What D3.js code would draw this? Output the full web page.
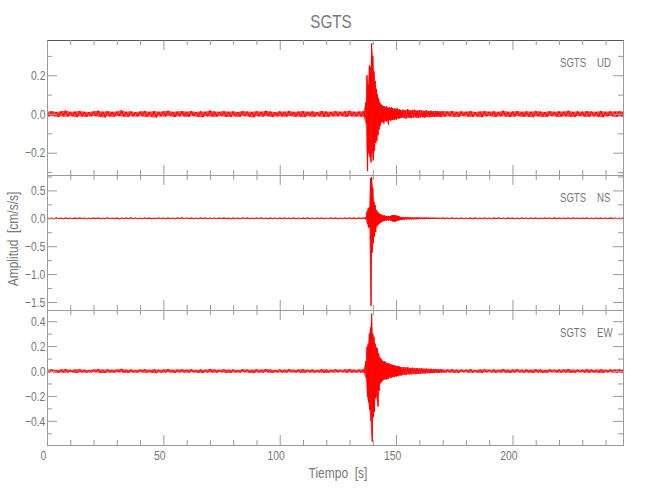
<!DOCTYPE html>
<html><head><meta charset="utf-8">
<script src="https://cdn.jsdelivr.net/npm/d3@7"></script>
<style>
body{margin:0;background:#fff}
text{font-family:"Liberation Sans",Arial,sans-serif;fill:#777;white-space:pre}
</style></head><body><svg id="c" width="650" height="500"></svg>
<script>
const station = "SGTS";
const components = ["UD","NS","EW"];
const xLabel = "Tiempo  [s]";
const yLabel = "Amplitud  [cm/s/s]";
const xMajor = [0,50,100,150,200];
const xMinor = [10,20,30,40,60,70,80,90,110,120,130,140,160,170,180,190,210,220,230,240];
const xDomain = [0,247.5];
const yDomains = [[-0.315,0.382],[-1.643,0.776],[-0.594,0.49]];
const yMajor = [[-0.2,0,0.2],[-1.5,-1,-0.5,0,0.5],[-0.4,-0.2,0,0.2,0.4]];
const yMinor = [[-0.3,-0.1,0.1,0.3],[-1.25,-0.75,-0.25,0.25,0.75],[-0.5,-0.3,-0.1,0.1,0.3]];

// time (s) of each envelope sample
const times = [
0,2,4,6,8,10,12,14,16,18,20,22,24,26,28,30,32,34,36,38,40,42,44,46,48,50,52,54,56,58,
60,62,64,66,68,70,72,74,76,78,80,82,84,86,88,90,92,94,96,98,100,102,104,106,108,110,112,114,116,118,
120,122,124,126,128,130,132,134,136,
137,137.5,138,138.5,139,139.5,140,140.5,141,141.5,142,142.5,143,143.5,144,144.5,145,145.5,146,146.5,147,147.5,148,148.5,149,149.5,150,150.5,151,151.5,152,
153,154,155,156,157,158,159,160,161,162,163,164,165,166,167,168,169,170,
172,174,176,178,180,182,184,186,188,190,192,194,196,198,200,202,204,206,208,210,212,214,216,218,220,222,224,226,228,230,232,234,236,238,240,242,244,246,247.5];

// UD: upper / lower envelope
const udHigh = [
0.012,0.015,0.010,0.014,0.018,0.011,0.013,0.016,0.012,0.010,
0.014,0.017,0.012,0.015,0.011,0.013,0.019,0.012,0.014,0.010,
0.013,0.016,0.011,0.015,0.012,0.014,0.017,0.011,0.013,0.015,
0.012,0.016,0.010,0.014,0.012,0.018,0.013,0.011,0.015,0.012,
0.014,0.010,0.016,0.013,0.011,0.015,0.012,0.017,0.013,0.010,
0.014,0.012,0.016,0.011,0.013,0.015,0.012,0.014,0.010,0.016,
0.013,0.011,0.015,0.012,0.014,0.017,0.012,0.013,0.015,
0.06,0.20,0.15,0.25,0.24,0.365,0.30,0.22,0.17,0.13,0.10,0.08,0.06,0.05,0.045,0.04,0.04,0.035,0.04,0.03,0.035,0.03,0.035,0.03,0.025,0.03,0.025,0.03,0.02,0.025,0.02,
0.022,0.02,0.025,0.018,0.02,0.022,0.017,0.02,0.018,0.016,0.019,0.015,0.017,0.014,0.016,0.015,0.013,0.015,
0.013,0.015,0.011,0.014,0.012,0.016,0.010,0.013,0.015,0.012,
0.014,0.011,0.017,0.012,0.013,0.015,0.011,0.014,0.012,0.016,
0.013,0.010,0.015,0.012,0.014,0.013,0.017,0.011,0.014,0.012,
0.015,0.013,0.011,0.016,0.012,0.014,0.013,0.015,0.012];
const udLow = [
-0.013,-0.010,-0.016,-0.012,-0.014,-0.011,-0.017,-0.012,-0.015,-0.013,
-0.010,-0.014,-0.018,-0.012,-0.015,-0.011,-0.013,-0.016,-0.012,-0.014,
-0.011,-0.015,-0.013,-0.019,-0.012,-0.014,-0.010,-0.016,-0.013,-0.012,
-0.015,-0.011,-0.014,-0.017,-0.012,-0.013,-0.015,-0.010,-0.014,-0.016,
-0.012,-0.015,-0.011,-0.013,-0.018,-0.012,-0.014,-0.011,-0.016,-0.013,
-0.012,-0.015,-0.010,-0.014,-0.013,-0.017,-0.011,-0.015,-0.012,-0.014,
-0.016,-0.012,-0.013,-0.011,-0.015,-0.012,-0.014,-0.013,-0.016,
-0.05,-0.295,-0.20,-0.22,-0.25,-0.20,-0.24,-0.19,-0.15,-0.14,-0.11,-0.08,-0.06,-0.045,-0.04,-0.05,-0.035,-0.04,-0.03,-0.055,-0.03,-0.035,-0.03,-0.03,-0.03,-0.025,-0.03,-0.02,-0.025,-0.02,-0.02,
-0.02,-0.024,-0.018,-0.022,-0.019,-0.017,-0.021,-0.018,-0.016,-0.019,-0.015,-0.017,-0.014,-0.016,-0.015,-0.013,-0.016,-0.014,
-0.012,-0.014,-0.016,-0.011,-0.013,-0.015,-0.012,-0.017,-0.013,-0.011,
-0.015,-0.013,-0.012,-0.016,-0.014,-0.011,-0.015,-0.013,-0.017,-0.012,
-0.014,-0.016,-0.011,-0.013,-0.015,-0.012,-0.014,-0.016,-0.011,-0.013,
-0.015,-0.012,-0.014,-0.017,-0.013,-0.011,-0.015,-0.012,-0.014];

// NS: upper / lower envelope
const nsHigh = [
0.008,0.006,0.010,0.007,0.009,0.005,0.008,0.011,0.007,0.006,
0.009,0.008,0.005,0.010,0.007,0.009,0.006,0.008,0.012,0.007,
0.006,0.009,0.008,0.005,0.010,0.007,0.008,0.006,0.009,0.011,
0.007,0.008,0.006,0.010,0.009,0.007,0.005,0.008,0.010,0.006,
0.009,0.007,0.008,0.011,0.006,0.008,0.010,0.007,0.009,0.006,
0.008,0.010,0.007,0.009,0.006,0.008,0.012,0.007,0.009,0.008,
0.006,0.010,0.008,0.007,0.009,0.011,0.008,0.010,0.012,
0.02,0.12,0.18,0.20,0.72,0.74,0.55,0.30,0.24,0.15,0.12,0.10,0.08,0.07,0.06,0.05,0.05,0.04,0.04,0.035,0.035,0.04,0.05,0.055,0.06,0.055,0.05,0.045,0.04,0.03,0.025,
0.025,0.02,0.022,0.018,0.02,0.016,0.018,0.015,0.016,0.014,0.015,0.013,0.012,0.014,0.012,0.011,0.012,0.010,
0.008,0.010,0.007,0.009,0.006,0.008,0.011,0.007,0.009,0.006,
0.008,0.010,0.007,0.009,0.008,0.006,0.010,0.007,0.009,0.008,
0.006,0.009,0.007,0.010,0.008,0.006,0.009,0.011,0.007,0.008,
0.010,0.006,0.008,0.009,0.007,0.010,0.008,0.006,0.009];
const nsLow = [
-0.007,-0.009,-0.006,-0.010,-0.008,-0.007,-0.011,-0.006,-0.009,-0.008,
-0.006,-0.010,-0.008,-0.007,-0.009,-0.012,-0.007,-0.008,-0.006,-0.010,
-0.009,-0.007,-0.011,-0.008,-0.006,-0.009,-0.007,-0.010,-0.008,-0.006,
-0.009,-0.011,-0.007,-0.008,-0.010,-0.006,-0.009,-0.007,-0.008,-0.012,
-0.007,-0.009,-0.006,-0.008,-0.010,-0.007,-0.009,-0.011,-0.006,-0.008,
-0.010,-0.007,-0.009,-0.006,-0.008,-0.011,-0.007,-0.009,-0.008,-0.010,
-0.007,-0.009,-0.011,-0.008,-0.010,-0.009,-0.012,-0.010,-0.011,
-0.02,-0.10,-0.17,-0.15,-1.57,-0.62,-0.45,-0.33,-0.25,-0.15,-0.12,-0.10,-0.08,-0.07,-0.06,-0.05,-0.045,-0.04,-0.035,-0.04,-0.03,-0.04,-0.05,-0.06,-0.055,-0.06,-0.05,-0.04,-0.04,-0.03,-0.03,
-0.025,-0.022,-0.019,-0.021,-0.017,-0.019,-0.015,-0.017,-0.014,-0.016,-0.013,-0.014,-0.012,-0.013,-0.011,-0.012,-0.010,-0.011,
-0.009,-0.007,-0.010,-0.008,-0.006,-0.011,-0.008,-0.007,-0.009,-0.010,
-0.006,-0.008,-0.009,-0.007,-0.011,-0.008,-0.006,-0.009,-0.007,-0.010,
-0.008,-0.006,-0.009,-0.011,-0.007,-0.008,-0.010,-0.006,-0.009,-0.008,
-0.007,-0.010,-0.008,-0.006,-0.009,-0.011,-0.007,-0.008,-0.009];

// EW: upper / lower envelope
const ewHigh = [
0.011,0.014,0.009,0.013,0.016,0.010,0.012,0.015,0.011,0.009,
0.013,0.016,0.011,0.014,0.010,0.012,0.018,0.011,0.013,0.009,
0.012,0.015,0.010,0.014,0.011,0.013,0.016,0.010,0.012,0.014,
0.011,0.015,0.009,0.013,0.011,0.017,0.012,0.010,0.014,0.011,
0.013,0.009,0.015,0.012,0.010,0.014,0.011,0.016,0.012,0.009,
0.013,0.011,0.015,0.010,0.012,0.014,0.011,0.013,0.009,0.015,
0.012,0.010,0.014,0.011,0.013,0.016,0.011,0.012,0.014,
0.08,0.195,0.22,0.30,0.35,0.46,0.30,0.275,0.22,0.19,0.18,0.14,0.11,0.10,0.085,0.075,0.08,0.07,0.065,0.06,0.06,0.055,0.05,0.05,0.045,0.045,0.04,0.04,0.04,0.035,0.03,
0.032,0.028,0.03,0.025,0.027,0.022,0.024,0.02,0.022,0.018,0.02,0.017,0.018,0.015,0.016,0.014,0.015,0.013,
0.012,0.014,0.010,0.013,0.011,0.015,0.009,0.012,0.014,0.011,
0.013,0.010,0.016,0.011,0.012,0.014,0.010,0.013,0.011,0.015,
0.012,0.009,0.014,0.011,0.013,0.012,0.016,0.010,0.013,0.011,
0.014,0.012,0.010,0.015,0.011,0.013,0.012,0.014,0.011];
const ewLow = [
-0.012,-0.009,-0.015,-0.011,-0.013,-0.010,-0.016,-0.011,-0.014,-0.012,
-0.009,-0.013,-0.017,-0.011,-0.014,-0.010,-0.012,-0.015,-0.011,-0.013,
-0.010,-0.014,-0.012,-0.018,-0.011,-0.013,-0.009,-0.015,-0.012,-0.011,
-0.014,-0.010,-0.013,-0.016,-0.011,-0.012,-0.014,-0.009,-0.013,-0.015,
-0.011,-0.014,-0.010,-0.012,-0.017,-0.011,-0.013,-0.010,-0.015,-0.012,
-0.011,-0.014,-0.009,-0.013,-0.012,-0.016,-0.010,-0.014,-0.011,-0.013,
-0.015,-0.011,-0.012,-0.010,-0.014,-0.011,-0.013,-0.012,-0.015,
-0.06,-0.205,-0.25,-0.31,-0.40,-0.567,-0.37,-0.33,-0.22,-0.20,-0.285,-0.16,-0.10,-0.09,-0.08,-0.07,-0.065,-0.07,-0.06,-0.065,-0.05,-0.055,-0.05,-0.045,-0.05,-0.04,-0.045,-0.04,-0.035,-0.035,-0.035,
-0.03,-0.033,-0.026,-0.028,-0.024,-0.025,-0.021,-0.023,-0.019,-0.02,-0.017,-0.018,-0.016,-0.017,-0.014,-0.015,-0.013,-0.014,
-0.011,-0.013,-0.015,-0.010,-0.012,-0.014,-0.011,-0.016,-0.012,-0.010,
-0.014,-0.012,-0.011,-0.015,-0.013,-0.010,-0.014,-0.012,-0.016,-0.011,
-0.013,-0.015,-0.010,-0.012,-0.014,-0.011,-0.013,-0.015,-0.010,-0.012,
-0.014,-0.011,-0.013,-0.016,-0.012,-0.010,-0.014,-0.011,-0.013];

const highs = [udHigh, nsHigh, ewHigh];
const lows = [udLow, nsLow, ewLow];

const svg = d3.select("#c");
const L = 47, R = 623, panelTops = [40,175,310], PH = 135;
const x = d3.scaleLinear().domain(xDomain).range([L, R]);
const axisColor = "#9a9a9a";
const NARROW = "scale(0.8,1)";

function label(px, py, txt, size, anchor, rot) {
  const g = svg.append("g").attr("transform", `translate(${px},${py})` + (rot ? ` rotate(${rot})` : ""));
  g.append("text").attr("transform", NARROW).attr("text-anchor", anchor)
    .style("font-size", size + "px").text(txt);
}

panelTops.forEach((T, p) => {
  const y = d3.scaleLinear().domain(yDomains[p]).range([T + PH, T]);
  const g = svg.append("g");
  const clipId = "clip" + p;
  svg.append("clipPath").attr("id", clipId).append("rect")
    .attr("x", L).attr("y", T).attr("width", R - L).attr("height", PH);

  const hi = highs[p], lo = lows[p];
  const idx = d3.range(times.length);
  // envelope band
  g.append("path").attr("clip-path", `url(#${clipId})`)
    .attr("d", d3.area().x(i => x(times[i])).y0(i => y(lo[i])).y1(i => y(hi[i]))(idx))
    .attr("fill", "#ff0000").attr("fill-opacity", 0.7).attr("stroke", "none");
  // trace: zigzag between upper and lower envelope
  const pts = [];
  for (let i = 0; i < times.length; i++) {
    pts.push([times[i], hi[i]]);
    const tn = i < times.length - 1 ? (times[i] + times[i + 1]) / 2 : times[i];
    pts.push([tn, lo[i]]);
  }
  g.append("path").attr("clip-path", `url(#${clipId})`)
    .attr("d", d3.line().x(d => x(d[0])).y(d => y(d[1]))(pts))
    .attr("fill", "none").attr("stroke", "#ff0000").attr("stroke-width", 1);

  const style = (sel, col) => {
    sel.selectAll("path.domain").attr("stroke", col || axisColor);
    sel.selectAll(".tick line").attr("stroke", axisColor);
    sel.selectAll(".tick text").style("font-size", "13px").attr("fill", "#777").attr("transform", NARROW);
  };

  // left axis
  g.append("g").attr("transform", `translate(${L},0)`)
    .call(d3.axisLeft(y).tickValues(yMajor[p]).tickSizeInner(-10).tickSizeOuter(0).tickPadding(2).tickFormat(d3.format(".1f")))
    .call(s => style(s));
  g.append("g").attr("transform", `translate(${L},0)`)
    .call(d3.axisLeft(y).tickValues(yMinor[p]).tickSizeInner(-5).tickSizeOuter(0).tickFormat(""))
    .call(s => style(s));
  // right axis
  g.append("g").attr("transform", `translate(${R},0)`)
    .call(d3.axisRight(y).tickValues(yMajor[p]).tickSizeInner(-10).tickSizeOuter(0).tickFormat(""))
    .call(s => style(s));
  g.append("g").attr("transform", `translate(${R},0)`)
    .call(d3.axisRight(y).tickValues(yMinor[p]).tickSizeInner(-5).tickSizeOuter(0).tickFormat(""))
    .call(s => style(s));
  // top axis
  g.append("g").attr("transform", `translate(0,${T})`)
    .call(d3.axisTop(x).tickValues(xMajor).tickSizeInner(-10).tickSizeOuter(0).tickFormat(""))
    .call(s => style(s, p === 0 ? "#5a5a5a" : axisColor));
  g.append("g").attr("transform", `translate(0,${T})`)
    .call(d3.axisTop(x).tickValues(xMinor).tickSizeInner(-5).tickSizeOuter(0).tickFormat(""))
    .call(s => style(s, p === 0 ? "#5a5a5a" : axisColor));
  // bottom axis
  const ba = g.append("g").attr("transform", `translate(0,${T + PH})`)
    .call(d3.axisBottom(x).tickValues(xMajor).tickSizeInner(-10).tickSizeOuter(0).tickPadding(6)
      .tickFormat(p === 2 ? d3.format("d") : ""))
    .call(s => style(s));
  ba.selectAll(".tick text").attr("dx", -5);
  g.append("g").attr("transform", `translate(0,${T + PH})`)
    .call(d3.axisBottom(x).tickValues(xMinor).tickSizeInner(-5).tickSizeOuter(0).tickFormat(""))
    .call(s => style(s));

  // panel label
  label(560, T + 27, station, 12, "start");
  label(597, T + 27, components[p], 12, "start");
});

label(331, 28, station, 19, "middle");
label(338, 478, xLabel, 15, "middle");
label(18, 239, yLabel, 15, "middle", -90);
</script></body></html>
